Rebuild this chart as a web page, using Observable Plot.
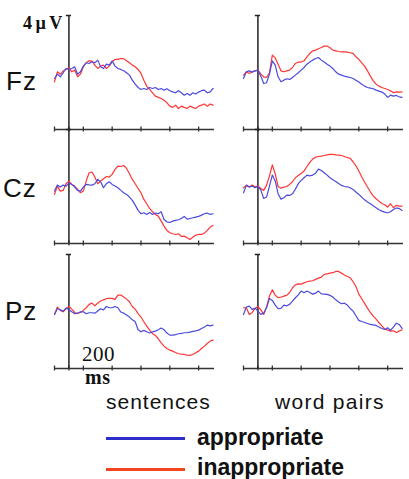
<!DOCTYPE html>
<html><head><meta charset="utf-8">
<script src="https://cdn.jsdelivr.net/npm/d3@7"></script>
<script src="https://cdn.jsdelivr.net/npm/@observablehq/plot@0.6"></script>
<style>
body{margin:0;background:#fff;}
#root{position:relative;width:409px;height:479px;overflow:hidden;background:#fff;}
.lbl{position:absolute;white-space:nowrap;color:#111;margin:0;padding:0;}
</style></head><body><div id="root"></div>
<script>
// time (ms) of each sample
const times = [-100,-80,-60,-40,-20,0,20,40,60,80,100,120,140,160,180,200,220,240,260,280,300,320,340,360,380,400,420,440,460,480,500,520,540,560,580,600,620,640,660,680,700,720,740,760,780,800,820,840,860,880,900,920,940,960,980,1000];
const xTicks = [-100,0,100,300,500,700,900];
const electrodes = ["Fz","Cz","Pz"];
const conditions = ["sentences","word pairs"];
const seriesNames = ["appropriate","inappropriate"];
const scaleLabel = "4µV";
const timeLabel = ["200","ms"];

// amplitudes (µV)
const fzSentAppropriate = [-0.53,-0.22,-0.41,-0.12,0.19,0.12,0.19,0.31,-0.22,-0.05,0.36,0.6,0.55,0.67,0.6,0.79,0.31,0.19,0.5,0.43,0.74,0.36,0.19,0.12,0.02,-0.12,-0.29,-0.65,-0.94,-1.18,-1.32,-1.25,-1.32,-1.18,-1.25,-1.18,-1.32,-1.25,-1.37,-1.27,-1.41,-1.49,-1.56,-1.41,-1.56,-1.73,-1.61,-1.73,-1.56,-1.65,-1.51,-1.41,-1.37,-1.56,-1.49,-1.25];
const fzSentInappropriate = [-0.77,-0.05,-0.22,0,0.12,0.26,-0.05,0.07,-0.41,-0.22,0.31,0.6,0.74,0.72,0.43,0.19,0.36,0.43,0.19,0.36,0.67,0.84,0.84,0.91,0.89,0.74,0.6,0.43,0.31,0.12,-0.17,-0.65,-1.08,-1.32,-1.56,-1.8,-1.89,-1.97,-2.09,-2.28,-2.52,-2.61,-2.45,-2.69,-2.52,-2.61,-2.69,-2.52,-2.61,-2.69,-2.52,-2.45,-2.37,-2.52,-2.37,-2.45];
const fzWordAppropriate = [-0.53,-0.05,0.02,-0.07,0.02,0.07,-0.36,-0.89,-0.84,-0.22,0.74,0.43,-0.41,-0.77,-0.65,-0.55,-0.6,-0.46,-0.29,-0.12,0.07,0.26,0.5,0.65,0.79,0.91,0.98,0.79,0.65,0.5,0.36,0.19,-0.05,-0.22,-0.29,-0.36,-0.41,-0.46,-0.53,-0.65,-0.79,-0.94,-1.08,-1.18,-1.22,-1.27,-1.37,-1.44,-1.51,-1.65,-1.89,-1.73,-1.8,-1.75,-1.85,-1.89];
const fzWordInappropriate = [-0.29,-0.05,-0.17,-0.05,0.02,0.07,-0.22,-0.41,-0.46,-0.12,1.15,0.95,0.5,0.02,-0.05,0.02,0.07,0.26,0.55,0.65,0.65,0.74,1.03,1.27,1.46,1.51,1.61,1.7,1.8,1.8,1.68,1.51,1.46,1.41,1.39,1.39,1.37,1.32,1.27,1.03,0.84,0.6,0.36,0.02,-0.36,-0.7,-0.94,-1.08,-1.18,-1.25,-1.32,-1.41,-1.56,-1.49,-1.51,-1.49];
const czSentAppropriate = [-0.43,0,-0.14,0,-0.07,0.14,0.05,-0.14,-0.38,-0.43,-0.14,0.05,0.02,0,0.1,0.41,0.24,-0.19,0.1,0.24,0.05,-0.07,-0.19,-0.38,-0.55,-0.67,-0.86,-1.1,-1.44,-1.82,-2.06,-1.99,-2.11,-1.97,-2.11,-2.01,-2.06,-1.92,-2.47,-2.64,-2.69,-2.59,-2.54,-2.49,-2.4,-2.25,-2.45,-2.4,-2.35,-2.3,-2.25,-2.16,-2.06,-2.01,-2.11,-2.06];
const czSentInappropriate = [-0.67,-0.07,-0.43,-0.38,0.1,0.29,0.05,-0.07,-0.31,-0.55,-0.43,0.29,0.89,0.94,0.58,0.1,0.29,0.46,0.62,0.58,0.77,1.13,1.37,1.34,1.41,1.2,0.82,0.41,0.1,-0.24,-0.55,-1.03,-1.34,-1.68,-1.92,-2.11,-2.23,-2.59,-2.95,-3.26,-3.43,-3.5,-3.55,-3.5,-3.69,-3.67,-3.79,-3.91,-3.74,-3.6,-3.55,-3.55,-3.45,-3.26,-3.02,-2.9];
const czWordAppropriate = [-0.55,-0.02,-0.14,-0.07,-0.19,-0.1,-0.34,-0.96,-0.86,-0.07,0.72,0.3,-0.62,-1.01,-0.91,-0.72,-0.74,-0.62,-0.29,0.1,0.34,0.53,0.72,0.67,0.72,0.86,1.15,1.05,0.89,0.72,0.53,0.38,0.26,0.12,-0.02,-0.1,-0.12,-0.19,-0.31,-0.5,-0.67,-0.86,-1.06,-1.22,-1.34,-1.49,-1.63,-1.77,-1.87,-1.94,-1.99,-1.92,-1.75,-1.65,-1.68,-1.82];
const czWordInappropriate = [-0.19,0,-0.14,0,-0.12,-0.07,-0.24,-0.38,0,0.65,1.46,0.82,-0.1,-0.22,-0.14,-0.1,0.05,0.24,0.53,0.7,0.84,1.01,1.34,1.63,1.87,2.01,2.06,2.09,2.13,2.18,2.21,2.21,2.18,2.16,2.13,2.06,1.99,1.92,1.68,1.39,1.01,0.6,0.22,-0.14,-0.48,-0.77,-0.98,-1.15,-1.32,-1.41,-1.58,-1.34,-1.63,-1.46,-1.51,-1.51];
const pzSentAppropriate = [-0.31,0.12,0.02,-0.07,0.14,0.05,-0.12,-0.26,-0.22,-0.12,-0.12,-0.26,-0.19,-0.19,-0.22,-0.07,0.1,0.02,0.26,0.17,0.17,0.26,0.17,-0.14,-0.22,-0.36,-0.5,-0.7,-0.84,-1.41,-1.56,-1.46,-1.56,-1.65,-1.56,-1.51,-1.41,-1.29,-1.41,-1.65,-1.8,-1.8,-1.77,-1.7,-1.68,-1.63,-1.63,-1.58,-1.53,-1.49,-1.44,-1.32,-1.22,-1.08,-1.13,-1.08];
const pzSentInappropriate = [-0.31,0.22,-0.02,-0.12,0.1,0.26,0.07,-0.17,-0.24,-0.17,-0.02,0.17,0.41,0.5,0.31,0.5,0.65,0.74,0.82,0.84,0.84,0.77,1.08,1.08,0.94,0.79,0.6,0.24,0.07,-0.26,-0.5,-0.84,-1.15,-1.44,-1.7,-1.82,-2.06,-2.35,-2.59,-2.76,-2.88,-2.95,-3.05,-3.14,-3.17,-3.19,-3.24,-3.26,-3.19,-3.07,-2.95,-2.76,-2.59,-2.4,-2.23,-2.16];
const pzWordAppropriate = [-0.31,0.22,0.29,0.05,0.14,-0.07,-0.31,-0.22,0.17,0.84,0.7,0.36,0.1,0.12,0.36,0.31,0.41,0.65,0.89,1.1,1.37,1.25,1.37,1.27,1.15,1.22,1.37,1.17,1.15,1.13,1.06,0.94,0.74,0.58,0.46,0.5,0.36,0.12,-0.07,-0.41,-0.74,-0.82,-0.89,-0.96,-1.03,-1.06,-1.1,-1.22,-1.32,-1.39,-1.27,-1.46,-1.22,-0.94,-1.03,-1.32];
const pzWordInappropriate = [0.17,0.17,-0.31,-0.19,0.12,0.26,0.02,-0.31,0.22,1.01,1.46,1.08,0.89,0.94,1.01,1.06,1.27,1.61,1.82,1.89,1.87,1.96,2.04,2.09,2.11,2.21,2.3,2.37,2.57,2.61,2.66,2.69,2.78,2.78,2.66,2.52,2.42,2.33,2.04,1.7,1.15,0.82,0.48,0.14,-0.17,-0.43,-0.65,-0.91,-1.13,-1.37,-1.44,-1.51,-1.49,-1.61,-1.51,-1.41];

const BLUE = "#4a4ade", RED = "#ff3535";
const LEG_BLUE = "#2e2ec8", LEG_RED = "#f2461e";
const Y_MIN = -4.2, Y_MAX = 4, X_MAX = 1010;

const root = document.getElementById("root");

function panel(app, inapp) {
  const rows = vals => times.map((t, i) => ({t, v: vals[i]}));
  return Plot.plot({
    width: 180, height: 134,
    marginLeft: 10, marginRight: 10, marginTop: 10, marginBottom: 10,
    x: {domain: [xTicks[0], X_MAX], axis: null},
    y: {domain: [Y_MIN, Y_MAX], axis: null},
    style: {background: "transparent", overflow: "visible"},
    marks: [
      Plot.ruleY([Y_MIN], {x1: xTicks[0], x2: X_MAX, stroke: "#333", strokeWidth: 1.3}),
      Plot.ruleX(xTicks, {x: d => d, y1: Y_MIN - 0.18, y2: Y_MIN + 0.18, stroke: "#333", strokeWidth: 1.3}),
      Plot.ruleX([0], {x: d => d, y1: Y_MIN, y2: Y_MAX, stroke: "#222", strokeWidth: 1.5}),
      Plot.ruleY([Y_MAX], {y: d => d, x1: -18, x2: 18, stroke: "#222", strokeWidth: 1.5}),
      Plot.line(rows(inapp), {x: "t", y: "v", stroke: RED, strokeWidth: 1.2}),
      Plot.line(rows(app), {x: "t", y: "v", stroke: BLUE, strokeWidth: 1.2})
    ]
  });
}

const panels = [
  [fzSentAppropriate, fzSentInappropriate, fzWordAppropriate, fzWordInappropriate],
  [czSentAppropriate, czSentInappropriate, czWordAppropriate, czWordInappropriate],
  [pzSentAppropriate, pzSentInappropriate, pzWordAppropriate, pzWordInappropriate]
];
const colLeft = [44, 233];
const rowTop = [5, 119, 244];

panels.forEach((p, r) => {
  [0, 1].forEach(c => {
    const svg = panel(p[c * 2], p[c * 2 + 1]);
    svg.style.position = "absolute";
    svg.style.left = colLeft[c] + "px";
    svg.style.top = rowTop[r] + "px";
    root.appendChild(svg);
  });
});

const SANS = "'Liberation Sans', Arial, sans-serif";
const SERIF = "'Liberation Serif', 'Times New Roman', serif";
// place a text so that its baseline sits at `baseline`
function label(text, x, baseline, size, family, weight, extra, lh) {
  lh = lh || 1;
  const d = document.createElement("div");
  d.className = "lbl";
  d.textContent = text;
  const asc = family === SERIF ? 0.891 : 0.905;
  const desc = family === SERIF ? 0.216 : 0.212;
  const k = (lh - (asc + desc)) / 2 + asc;
  d.style.left = x + "px";
  d.style.top = (baseline - k * size) + "px";
  d.style.fontSize = size + "px";
  d.style.lineHeight = lh;
  d.style.fontFamily = family;
  d.style.fontWeight = weight || "normal";
  if (extra) Object.assign(d.style, extra);
  root.appendChild(d);
  return d;
}

label(electrodes[0], 6, 90, 26, SANS, "normal", {letterSpacing: "1px"});
label(electrodes[1], 3, 197, 26, SANS, "normal", {letterSpacing: "1px"});
label(electrodes[2], 5, 320, 26, SANS, "normal", {letterSpacing: "1px"});
label(scaleLabel, 23, 29, 18, SERIF, "bold", {letterSpacing: "3.5px"});
label(timeLabel[0], 82, 361, 21, SERIF, "normal", {letterSpacing: "0.5px"}, 0.8);
label(timeLabel[1], 85, 384, 20, SERIF, "bold", {letterSpacing: "0.5px"}, 0.8);
label(conditions[0], 106, 408.5, 21, SANS, "normal", {letterSpacing: "1px"});
label(conditions[1], 275, 408.5, 21, SANS, "normal", {letterSpacing: "1.3px"});

function legLine(color, y) {
  const d = document.createElement("div");
  Object.assign(d.style, {position: "absolute", left: "106px", width: "79px", top: (y - 1.5) + "px", height: "3px", background: color});
  root.appendChild(d);
}
legLine(LEG_BLUE, 438.5);
legLine(LEG_RED, 469.5);
label(seriesNames[0], 197, 445, 23, SANS, "bold", null, 0.9);
label(seriesNames[1], 197, 475, 23, SANS, "bold", null, 0.9);
</script></body></html>
